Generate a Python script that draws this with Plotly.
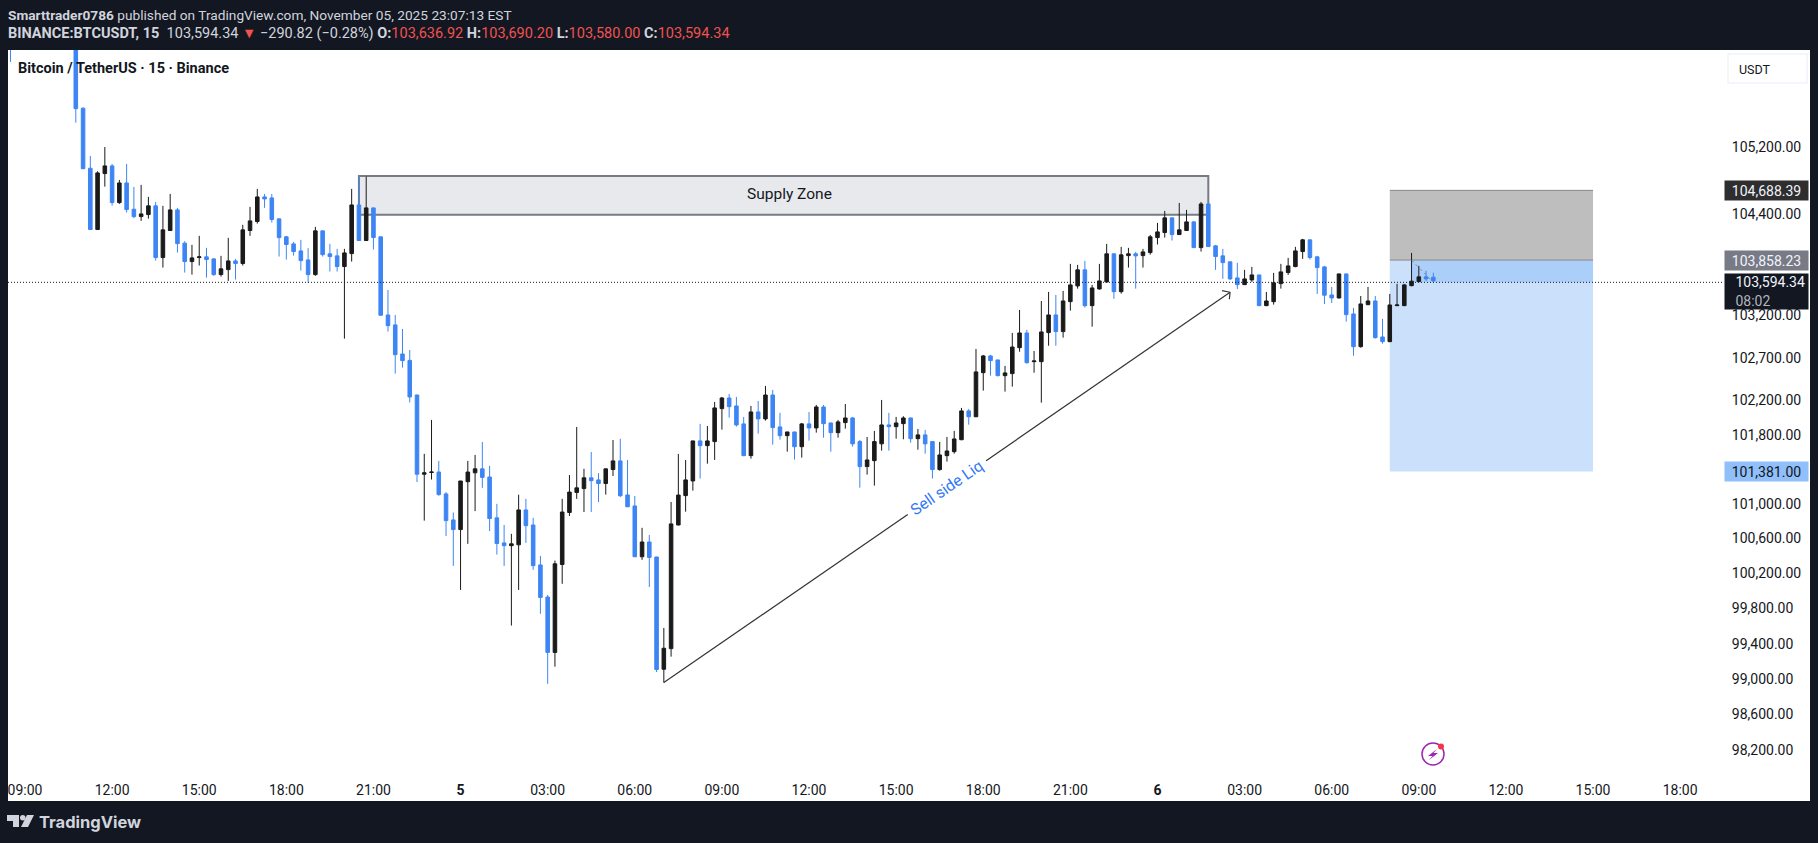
import math
import pandas as pd
import plotly.graph_objects as go

# 15 minute BTCUSDT bars, first visible full bar is 10:45 on Nov 4
open_prices = [
    106500, 105657, 104935, 104203, 104871, 104963, 104524, 104759, 104445, 104357,
    104381, 104485, 103870, 104191, 104437, 104041, 103822, 103870, 103878, 103854,
    103668, 103727, 103830, 103799, 104191, 104298, 104592, 104580, 104330, 104116,
    104032, 103949, 103842, 103668, 104187, 103914, 103890, 103763, 103917, 104496,
    104072, 104461, 104116, 103191, 103074, 102732, 102657, 102252, 101331, 101351,
    101356, 101103, 100803, 100692, 101244, 101347, 101393, 101298, 100827, 100539,
    100507, 100517, 100918, 100745, 100286, 99919, 99289, 100291, 100889, 101120,
    101165, 101289, 101265, 101223, 101385, 101485, 101091, 100964, 100380, 100549,
    100377, 99098, 99332, 100745, 101083, 101253, 101717, 101662, 101709, 102093,
    102217, 102124, 101915, 101546, 102054, 101973, 102252, 101880, 101778, 101821,
    101650, 101915, 101868, 102112, 101926, 101813, 101930, 101984, 101709, 101419,
    101488, 101683, 101903, 101883, 101918, 101984, 101743, 101787, 101709, 101384,
    101546, 101592, 101731, 102066, 101998, 102513, 102709, 102662, 102478, 102502,
    102806, 102979, 102642, 102642, 102983, 103191, 102995, 103348, 103534, 103724,
    103301, 103498, 103581, 103914, 103466, 103893, 103914, 103893, 103929, 104107,
    104167, 104342, 104143, 104191, 104294, 103988, 104508, 104009, 103890, 103819,
    103629, 103549, 103605, 103664, 103301, 103348, 103561, 103692, 103763, 103941,
    104080, 103878, 103759, 103427, 103392, 103676, 103203, 102818, 103313, 103356,
    102932, 102877, 103301, 103301, 103537, 103585, 103641, 103636.92,
]
high_prices = [
    106600, 105669, 105082, 104899, 105190, 104987, 104795, 104987, 104711, 104736,
    104592, 104532, 104485, 104628, 104461, 104064, 104021, 104128, 103985, 103863,
    103890, 104104, 103854, 104259, 104473, 104688, 104628, 104628, 104333, 104128,
    104056, 104080, 103981, 104235, 104190, 104032, 103973, 103973, 104688, 104823,
    104835, 104463, 104118, 103486, 103191, 103026, 102779, 102254, 101567, 101961,
    101485, 101124, 100889, 101254, 101485, 101554, 101704, 101427, 100988, 100745,
    100643, 101094, 101046, 100827, 100389, 99943, 100336, 101046, 101322, 101879,
    101393, 101588, 101343, 101395, 101728, 101741, 101496, 101079, 100712, 100630,
    100379, 99567, 101010, 101566, 101496, 101719, 101915, 101891, 102171, 102229,
    102264, 102229, 101996, 102124, 102182, 102358, 102311, 102043, 101823, 101823,
    101926, 102054, 102136, 102136, 101928, 101961, 102147, 101996, 101728, 101763,
    101833, 102194, 102043, 101996, 102004, 101986, 101856, 101845, 101711, 101705,
    101763, 101833, 102101, 102089, 102791, 102721, 102721, 102664, 102592, 102979,
    103250, 103015, 102767, 103356, 103463, 103427, 103475, 103795, 103783, 103830,
    103546, 103795, 104032, 103916, 103997, 103985, 103937, 103973, 104139, 104282,
    104425, 104344, 104520, 104437, 104306, 104532, 104520, 104020, 103973, 103821,
    103807, 103724, 103759, 103666, 103463, 103688, 103795, 103866, 103997, 104092,
    104082, 103890, 103771, 103522, 103678, 103678, 103274, 103415, 103522, 103415,
    103144, 103439, 103558, 103558, 103925, 103771, 103712, 103690.20,
]
low_prices = [
    105483, 104925, 104200, 104200, 104715, 104488, 104508, 104405, 104338, 104306,
    104333, 103834, 103751, 104188, 103929, 103692, 103668, 103775, 103632, 103653,
    103644, 103593, 103609, 103775, 104128, 104274, 104461, 104286, 103882, 103846,
    103893, 103716, 103573, 103653, 103882, 103704, 103704, 102912, 103822, 104070,
    104070, 103965, 103185, 102995, 102502, 102572, 102165, 101240, 100795, 101269,
    101082, 100618, 100275, 100000, 100528, 100905, 101173, 100675, 100405, 100275,
    99594, 100000, 100539, 100229, 99728, 98933, 99127, 100070, 100848, 101046,
    100894, 100894, 101009, 101095, 101310, 101066, 100950, 100378, 100344, 100034,
    99067, 98947, 99241, 100740, 100898, 101141, 101280, 101453, 101496, 101848,
    101988, 101883, 101540, 101511, 101802, 101953, 101674, 101731, 101592, 101500,
    101523, 101720, 101813, 101755, 101592, 101755, 101860, 101650, 101175, 101326,
    101199, 101604, 101604, 101743, 101736, 101697, 101615, 101569, 101280, 101372,
    101477, 101569, 101725, 101906, 101994, 102303, 102478, 102470, 102291, 102350,
    102759, 102619, 102513, 102163, 102829, 102829, 102924, 103242, 103502, 103277,
    103053, 103490, 103575, 103381, 103443, 103751, 103502, 103751, 103905, 104025,
    104107, 104072, 104140, 104185, 103985, 103941, 103995, 103724, 103617, 103605,
    103498, 103545, 103581, 103295, 103295, 103313, 103502, 103664, 103755, 103854,
    103846, 103439, 103321, 103333, 103385, 103112, 102712, 102806, 103305, 102912,
    102853, 102870, 103295, 103295, 103530, 103580, 103593, 103580.00,
]
close_prices = [
    105652, 104930, 104203, 104879, 104963, 104524, 104759, 104441, 104357, 104389,
    104485, 103870, 104199, 104437, 104036, 103822, 103866, 103878, 103846, 103668,
    103736, 103830, 103799, 104199, 104306, 104592, 104568, 104322, 104107, 104025,
    103941, 103834, 103668, 104187, 103905, 103882, 103763, 103925, 104496, 104072,
    104461, 104108, 103188, 103065, 102724, 102654, 102229, 101331, 101347, 101356,
    101095, 100795, 100692, 101252, 101356, 101393, 101294, 100819, 100532, 100507,
    100528, 100918, 100737, 100278, 99915, 99289, 100299, 100894, 101124, 101173,
    101289, 101256, 101223, 101393, 101485, 101082, 100955, 100380, 100549, 100372,
    99095, 99336, 100757, 101090, 101265, 101717, 101662, 101717, 102101, 102217,
    102116, 101903, 101546, 102054, 101973, 102252, 101872, 101778, 101821, 101650,
    101915, 101868, 102112, 101918, 101813, 101938, 101984, 101683, 101419, 101496,
    101709, 101903, 101883, 101926, 101984, 101743, 101787, 101683, 101384, 101554,
    101600, 101740, 102066, 101998, 102522, 102709, 102654, 102478, 102510, 102814,
    102979, 102630, 102650, 102991, 103191, 102995, 103356, 103546, 103724, 103301,
    103510, 103593, 103914, 103466, 103902, 103914, 103890, 103937, 104116, 104175,
    104342, 104143, 104199, 104294, 103988, 104508, 104000, 103882, 103810, 103617,
    103549, 103617, 103664, 103301, 103356, 103570, 103700, 103771, 103949, 104080,
    103870, 103751, 103424, 103392, 103676, 103195, 102818, 103321, 103356, 102924,
    102877, 103309, 103309, 103546, 103590, 103641, 103617, 103594.34,
]

# the one wick poking in from the top left, its body is off the chart
early_time = "2025-11-04 08:30"
early_bar = [106700, 106800, 106217, 106500]

times = [pd.Timestamp(early_time)] + list(pd.date_range("2025-11-04 10:45", periods=len(close_prices), freq="15min"))

y_ticks = [105200, 104400, 103200, 102700, 102200, 101800, 101000, 100600, 100200, 99800, 99400, 99000, 98600, 98200]
x_ticks = pd.date_range("2025-11-04 09:00", "2025-11-06 18:00", freq="3h")
x_labels = ["09:00", "12:00", "15:00", "18:00", "21:00", "<b>5</b>", "03:00", "06:00", "09:00", "12:00",
            "15:00", "18:00", "21:00", "<b>6</b>", "03:00", "06:00", "09:00", "12:00", "15:00", "18:00"]

last_price = 103594.34
target_price = 104688.39
entry_price = 103858.23
stop_price = 101381.00

# the axis labels sit about 1.5px above their true level in the reference
LABEL_DRIFT = 18

DARK = "#131722"
BLUE = "#3d85f5"
BLACK = "#1a1a1a"
FONT = "Roboto"

# pane sits at x 8..1723, y 50..771 of the 1818x843 page
def px(x):
    return (x - 8) / (1723 - 8)

def py(y):
    return 1 - (y - 50) / (771 - 50)

def bar(i):
    return pd.Timestamp("2025-11-04 09:00") + pd.Timedelta(minutes=15 * i)

def page_rect(x0, y0, x1, y1, **kw):
    return dict(type="rect", xref="paper", yref="paper", x0=px(x0), x1=px(x1), y0=py(y0), y1=py(y1), **kw)

def page_path(points, **kw):
    d = "M" + "L".join(f"{px(a)},{py(b)}" for a, b in points) + "Z"
    return dict(type="path", xref="paper", yref="paper", path=d, **kw)

def data_line(i0, p0, i1, p1, color="#333333", width=1.2, dash=None, layer="above"):
    return dict(type="line", xref="x", yref="y", x0=bar(i0), x1=bar(i1), y0=p0, y1=p1,
                line=dict(color=color, width=width, dash=dash), layer=layer)

def data_rect(i0, p0, i1, p1, fill, layer="below", line=None):
    return dict(type="rect", xref="x", yref="y", x0=bar(i0), x1=bar(i1), y0=p0, y1=p1,
                fillcolor=fill, line=line or dict(width=0), layer=layer)

target_level = target_price - LABEL_DRIFT
entry_level = entry_price - LABEL_DRIFT
stop_level = stop_price - LABEL_DRIFT
last_level = last_price - LABEL_DRIFT

fig = go.Figure()

fig.add_trace(go.Candlestick(
    x=times,
    open=[early_bar[0]] + open_prices,
    high=[early_bar[1]] + high_prices,
    low=[early_bar[2]] + low_prices,
    close=[early_bar[3]] + close_prices,
    increasing=dict(line=dict(color=BLACK, width=1), fillcolor=BLACK),
    decreasing=dict(line=dict(color=BLUE, width=1), fillcolor=BLUE),
    whiskerwidth=0,
    showlegend=False,
))

shapes = [
    # white card behind pane and both axes
    page_rect(8, 50, 1810, 801, fillcolor="white", line=dict(width=0), layer="below"),
    # supply zone
    data_rect(46, 104843, 163, 104378, "#e8e9ed", line=dict(color="#787b86", width=2)),
    # short position box
    data_rect(188, target_level, 216, entry_level, "#bebebe"),
    data_rect(188, entry_level, 216, stop_level, "#cae0fb"),
    data_rect(191, entry_level, 216, last_level, "#accffa"),
    data_line(188, target_level, 216, target_level, color="#8a8a8a", width=1, layer="below"),
    data_line(188, entry_level, 216, entry_level, color="#8a8a8a", width=1, layer="below"),
    data_line(191, entry_level, 194, last_level, color="#8a8a8a", width=1, dash="dot"),
    # sell side arrow, broken where the text sits
    data_line(88, 98947, 121.6, 100866),
    data_line(132.4, 101488, 166, 103459),
    data_line(166, 103459, 164.9, 103478),
    data_line(166, 103459, 165.9, 103376),
    # last price line
    dict(type="line", xref="paper", yref="y", x0=0, x1=1, y0=last_level, y1=last_level,
         line=dict(color=DARK, width=1, dash="1px,2px"), layer="above"),
    # currency button
    page_rect(1728, 54, 1807, 83, fillcolor="white", line=dict(color="#f0f3fa", width=1.5), layer="above"),
    # flash icon
    dict(type="circle", xref="paper", yref="paper", x0=px(1422), x1=px(1444), y0=py(743), y1=py(765),
         line=dict(color="#9c27b0", width=1.5), fillcolor="white", layer="above"),
    page_path([(1437, 749), (1428, 756), (1432.5, 756), (1429, 760), (1438, 753), (1433.5, 753)],
              fillcolor="#9c27b0", line=dict(width=0), layer="above"),
    dict(type="circle", xref="paper", yref="paper", x0=px(1438), x1=px(1444), y0=py(743.5), y1=py(749.5),
         line=dict(width=0), fillcolor="#f23645", layer="above"),
    # TradingView mark
    page_path([(7, 815), (19, 815), (19, 827), (13, 827), (13, 821), (7, 821)],
              fillcolor="#d1d4dc", line=dict(width=0), layer="above"),
    dict(type="circle", xref="paper", yref="paper", x0=px(20), x1=px(25.5), y0=py(815), y1=py(820.5),
         line=dict(width=0), fillcolor="#d1d4dc", layer="above"),
    page_path([(27, 815), (34, 815), (28, 827), (21, 827)],
              fillcolor="#d1d4dc", line=dict(width=0), layer="above"),
]

red = "#f0524f"
header_1 = "<b>Smarttrader0786</b> published on TradingView.com, November 05, 2025 23:07:13 EST"
header_2 = (
    "<b>BINANCE:BTCUSDT, 15</b>&nbsp;&nbsp;103,594.34 "
    f"<span style='color:{red}'>▼</span> −290.82 (−0.28%) "
    f"<b>O:</b><span style='color:{red}'>103,636.92</span> "
    f"<b>H:</b><span style='color:{red}'>103,690.20</span> "
    f"<b>L:</b><span style='color:{red}'>103,580.00</span> "
    f"<b>C:</b><span style='color:{red}'>103,594.34</span>"
)

def page_text(text, x, y, size=14, color="#d1d4dc", family=FONT, anchor="left"):
    return dict(text=text, xref="paper", yref="paper", x=px(x), y=py(y), xanchor=anchor, yanchor="middle",
                showarrow=False, font=dict(family=family, size=size, color=color))

def price_tag(text, level, bg, color):
    return dict(text=text, xref="paper", yref="y", x=1, y=math.log10(level), xanchor="left", yanchor="middle",
                xshift=1, showarrow=False, bgcolor=bg, width=83, height=19, align="center",
                font=dict(family=FONT, size=14, color=color), borderpad=0)

annotations = [
    page_text(header_1, 6, 15, size=13.7),
    page_text(header_2, 6, 33, size=14.5),
    page_text("<b>Bitcoin / TetherUS · 15 · Binance</b>", 16, 68, size=14.5, color=DARK),
    page_text("USDT", 1737, 69, size=12.5, color=DARK),
    page_text("<b>TradingView</b>", 37, 822, size=16.5, color="#d1d4dc", family="Inter"),
    dict(text="Supply Zone", xref="x", yref="y", x=bar(105.3), y=math.log10(104630), showarrow=False,
         font=dict(family=FONT, size=15.5, color=DARK)),
    dict(text="Sell side Liq", xref="x", yref="y", x=bar(127), y=math.log10(101172), showarrow=False, textangle=-34.6,
         font=dict(family=FONT, size=15.8, color="#3179f5")),
    price_tag("104,688.39", target_level, "#2e2e2e", "#f0f3fa"),
    price_tag("103,858.23", entry_level, "#787b86", "#f0f3fa"),
    price_tag("101,381.00", stop_level, "#90bff9", DARK),
    dict(text="&nbsp;&nbsp;&nbsp;103,594.34<br>&nbsp;&nbsp;&nbsp;<span style='color:#b2b5be'>08:02</span>",
         xref="paper", yref="y", x=1, y=math.log10(last_level), xanchor="left", yanchor="top", xshift=1, yshift=9,
         showarrow=False, bgcolor=DARK, width=83, height=35, align="left", borderpad=0,
         font=dict(family=FONT, size=14, color="#f0f3fa")),
]

fig.update_layout(
    width=1818,
    height=843,
    margin=dict(l=8, r=95, t=50, b=72),
    paper_bgcolor=DARK,
    plot_bgcolor="white",
    showlegend=False,
    shapes=shapes,
    annotations=annotations,
    font=dict(family=FONT, size=14, color=DARK),
    xaxis=dict(
        type="date",
        range=[bar(-2.34), bar(233.9)],
        rangeslider=dict(visible=False),
        showgrid=False,
        zeroline=False,
        tickmode="array",
        tickvals=list(x_ticks),
        ticktext=x_labels,
        ticks="outside",
        ticklen=6,
        tickcolor="rgba(0,0,0,0)",
        tickangle=0,
    ),
    yaxis=dict(
        type="log",
        side="right",
        range=[math.log10(97953), math.log10(106362)],
        showgrid=False,
        zeroline=False,
        tickmode="array",
        tickvals=y_ticks,
        ticktext=[f"{v:,.2f}" for v in y_ticks],
        ticks="outside",
        ticklen=5,
        tickcolor="rgba(0,0,0,0)",
        ticklabelshift=1,
    ),
)

fig.write_html("out.html", config={"displayModeBar": False}, post_script="document.body.style.margin='0';")
